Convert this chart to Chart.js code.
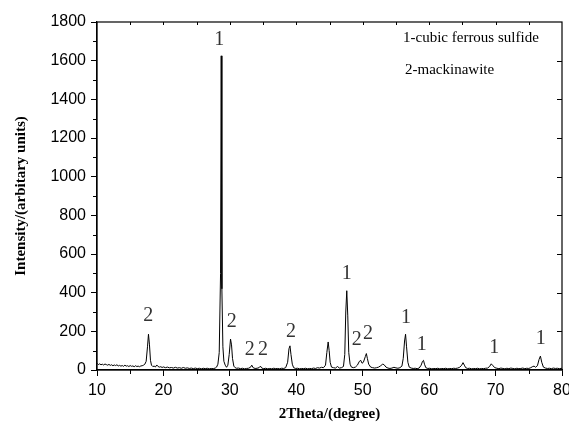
<!DOCTYPE html>
<html>
<head>
<meta charset="utf-8">
<script src="https://cdn.jsdelivr.net/npm/chart.js@4"></script>
<style>
  html, body { margin: 0; padding: 0; background: #fff; }
  #wrap { width: 569px; height: 423px; }
</style>
</head>
<body>
<div id="wrap"><canvas id="xrd"></canvas></div>
<script>
// XRD pattern
const twoTheta = [
  10.0,10.2,10.4,10.6,10.8,11.0,11.2,11.4,11.6,11.8,12.0,12.2,12.4,12.6,12.8,13.0,13.2,13.4,13.6,13.8,
  14.0,14.2,14.4,14.6,14.8,15.0,15.2,15.4,15.6,15.8,16.0,16.2,16.4,16.6,16.8,17.0,17.2,17.4,17.6,17.75,
  17.9,18.05,18.2,18.4,18.6,18.8,19.0,19.2,19.4,19.6,19.8,20.0,20.3,20.6,20.9,21.2,21.5,21.8,22.1,22.4,
  22.7,23.0,23.3,23.6,23.9,24.2,24.5,24.8,25.1,25.4,25.7,26.0,26.3,26.6,26.9,27.2,27.5,27.8,28.0,28.2,
  28.4,28.6,28.7,28.8,28.95,29.1,29.3,29.5,29.7,29.9,30.1,30.25,30.4,30.6,30.8,31.0,31.3,31.6,31.9,32.2,
  32.5,32.8,33.1,33.3,33.5,33.8,34.1,34.4,34.6,34.8,35.1,35.4,35.7,36.0,36.3,36.6,36.9,37.2,37.5,37.8,
  38.1,38.4,38.7,38.9,39.05,39.2,39.4,39.6,39.9,40.2,40.5,40.8,41.1,41.4,41.7,42.0,42.3,42.6,42.9,43.2,
  43.5,43.8,44.1,44.4,44.6,44.8,44.95,45.1,45.3,45.6,45.9,46.2,46.5,46.8,47.1,47.3,47.45,47.6,47.75,47.9,
  48.1,48.3,48.6,48.9,49.2,49.5,49.7,49.9,50.1,50.4,50.55,50.7,50.9,51.2,51.5,51.8,52.1,52.4,52.7,53.0,
  53.2,53.5,53.8,54.1,54.4,54.7,55.0,55.3,55.6,55.9,56.1,56.3,56.45,56.6,56.8,57.0,57.3,57.6,57.9,58.2,
  58.5,58.8,59.0,59.15,59.3,59.5,59.8,60.1,60.4,60.7,61.0,61.3,61.6,61.9,62.2,62.5,62.8,63.1,63.4,63.7,
  64.0,64.3,64.6,64.9,65.1,65.3,65.5,65.8,66.1,66.4,66.7,67.0,67.3,67.6,67.9,68.2,68.5,68.8,69.1,69.35,
  69.6,69.9,70.2,70.5,70.8,71.1,71.4,71.7,72.0,72.3,72.6,72.9,73.2,73.5,73.8,74.1,74.4,74.7,75.0,75.3,
  75.6,75.8,76.0,76.3,76.55,76.75,76.95,77.2,77.5,77.8,78.1,78.4,78.7,79.0,79.3,79.6,80.0
];
const intensity = [
  35,28,32,27,30,26,31,28,25,29,24,27,22,26,23,27,21,24,20,23,
  19,25,20,22,18,23,19,21,17,22,18,20,17,21,22,25,30,45,120,185,
  130,50,25,18,20,16,26,18,15,17,13,16,12,15,11,13,10,14,10,12,
  9,13,9,11,8,10,7,10,7,9,6,9,7,9,6,8,7,10,15,30,
  90,500,1625,420,120,45,25,14,25,80,160,130,60,20,12,9,10,7,9,6,
  8,9,14,25,12,8,9,12,20,10,7,9,6,8,6,9,7,8,6,9,
  8,12,40,110,125,80,30,12,8,9,6,8,7,9,6,8,7,10,8,12,
  10,14,12,25,90,145,100,40,15,12,10,18,10,12,18,80,300,410,280,90,
  30,15,12,15,25,45,50,35,40,70,85,60,30,15,12,10,12,15,22,30,
  28,15,10,8,10,14,11,9,12,20,60,150,185,120,40,15,10,8,9,7,
  10,25,45,50,30,12,8,9,6,8,7,9,6,8,7,9,6,8,7,9,
  8,10,14,25,38,25,12,8,9,6,8,7,9,6,8,7,9,10,18,32,
  22,12,9,7,10,8,6,9,7,10,8,6,9,7,8,10,7,9,8,12,
  18,20,14,22,55,72,40,15,10,8,9,7,10,8,9,7,9
];

// phase markers above the peaks
const labelAngle = [17.7, 28.4, 30.3, 33.0, 35.0, 39.2, 47.6, 49.1, 50.8, 56.5, 58.9, 69.8, 76.8];
const labelHeight = [279, 1710, 248, 103, 103, 197, 500, 155, 190, 269, 129, 114, 160];
const labelText = ['2', '1', '2', '2', '2', '2', '1', '2', '2', '1', '1', '1', '1'];

const legendLines = ['1-cubic ferrous sulfide', '2-mackinawite'];

const xTicks = [10, 20, 30, 40, 50, 60, 70, 80];
const yTicks = [0, 200, 400, 600, 800, 1000, 1200, 1400, 1600, 1800];

const frameAndExtras = {
  id: 'frameAndExtras',
  afterDraw(chart) {
    const { ctx, chartArea: a, scales: { x, y } } = chart;
    ctx.save();
    ctx.strokeStyle = '#000';
    ctx.lineWidth = 1.2;
    ctx.strokeRect(a.left, a.top, a.right - a.left, a.bottom - a.top);

    ctx.lineWidth = 1;
    ctx.beginPath();
    // minor ticks, left and bottom, plus inward ticks on top and right
    for (let v = 100; v < 1800; v += 200) {
      const py = Math.round(y.getPixelForValue(v)) + 0.5;
      ctx.moveTo(a.left - 4, py); ctx.lineTo(a.left, py);
    }
    for (let v = 200; v < 1800; v += 200) {
      const py = Math.round(y.getPixelForValue(v)) + 0.5;
      ctx.moveTo(a.right - 5, py); ctx.lineTo(a.right, py);
    }
    for (let v = 15; v < 80; v += 10) {
      const px = Math.round(x.getPixelForValue(v)) + 0.5;
      ctx.moveTo(px, a.bottom); ctx.lineTo(px, a.bottom + 4);
    }
    for (let v = 15; v < 80; v += 5) {
      const px = Math.round(x.getPixelForValue(v)) + 0.5;
      ctx.moveTo(px, a.top); ctx.lineTo(px, a.top + 3);
    }
    ctx.stroke();

    // peak labels
    ctx.fillStyle = '#333';
    ctx.font = '20px "Liberation Serif"';
    ctx.textAlign = 'center';
    ctx.textBaseline = 'middle';
    labelText.forEach((t, i) => {
      ctx.fillText(t, x.getPixelForValue(labelAngle[i]), y.getPixelForValue(labelHeight[i]));
    });

    // legend text
    ctx.fillStyle = '#000';
    ctx.font = '15px "Liberation Serif"';
    ctx.textAlign = 'left';
    ctx.fillText(legendLines[0], 403, 38);
    ctx.fillText(legendLines[1], 405, 70);
    ctx.restore();
  }
};

const tickFont = { family: '"Liberation Sans", Arial, sans-serif', size: 16 };
const titleFont = { family: '"Liberation Serif", serif', size: 15, weight: 'bold' };

new Chart(document.getElementById('xrd'), {
  type: 'line',
  data: {
    datasets: [{
      data: twoTheta.map((t, i) => ({ x: t, y: intensity[i] })),
      borderColor: '#000',
      borderWidth: 1,
      pointRadius: 0,
      tension: 0
    }]
  },
  options: {
    responsive: true,
    maintainAspectRatio: false,
    animation: false,
    layout: { padding: { top: 22, right: 7, left: 0, bottom: 0 } },
    plugins: { legend: { display: false }, tooltip: { enabled: false } },
    scales: {
      x: {
        type: 'linear', min: 10, max: 80,
        afterBuildTicks: s => { s.ticks = xTicks.map(v => ({ value: v })); },
        afterFit: s => { s.height = 53; s.paddingLeft = 0; s.paddingRight = 0; },
        ticks: { font: tickFont, color: '#000', padding: 5, maxRotation: 0, callback: v => String(v) },
        grid: { drawOnChartArea: false, tickLength: 6, color: '#000' },
        border: { color: '#000', width: 1.2 },
        title: { display: true, text: '2Theta/(degree)', font: titleFont, color: '#000', padding: { top: 0, bottom: 0 } }
      },
      y: {
        min: 0, max: 1800,
        afterBuildTicks: s => { s.ticks = yTicks.map(v => ({ value: v })); },
        afterFit: s => { s.width = 97; s.paddingTop = 0; s.paddingBottom = 0; },
        ticks: { font: tickFont, color: '#000', padding: 5, callback: v => String(v) },
        grid: { drawOnChartArea: false, tickLength: 6, color: '#000' },
        border: { color: '#000', width: 1.2 },
        title: { display: true, text: 'Intensity/(arbitary units)', font: titleFont, color: '#000', padding: { top: 12, bottom: 0 } }
      }
    }
  },
  plugins: [frameAndExtras]
});
</script>
</body>
</html>
